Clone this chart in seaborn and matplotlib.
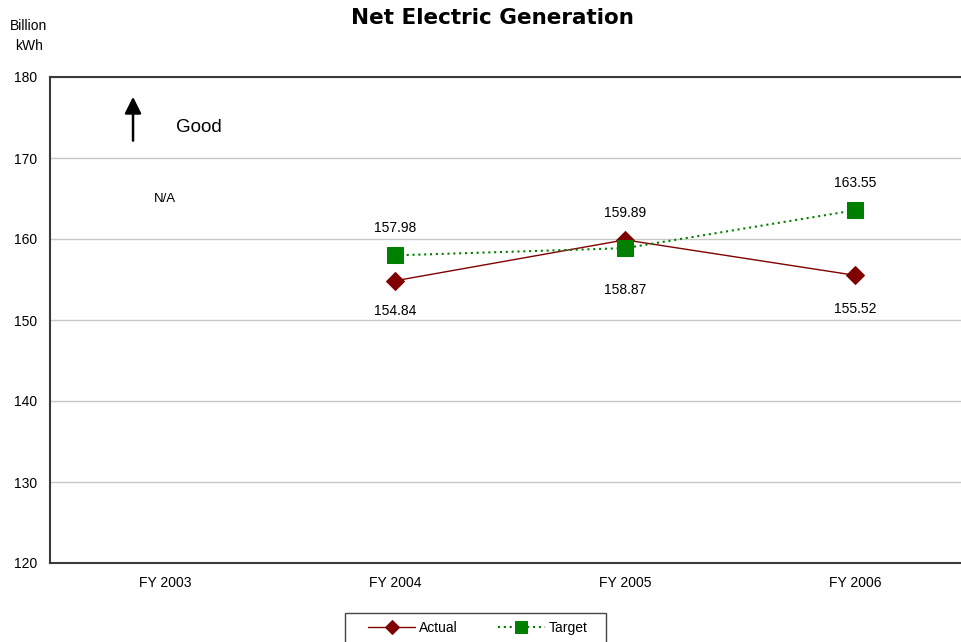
import numpy as np
import pandas as pd
import matplotlib
matplotlib.use("Agg")
import matplotlib.pyplot as plt
from matplotlib.patches import Rectangle
import seaborn as sns

sns.set_style("white")
plt.rcParams["font.family"] = ["Liberation Sans", "DejaVu Sans"]
plt.rcParams["text.color"] = "black"
plt.rcParams["xtick.color"] = "black"
plt.rcParams["ytick.color"] = "black"

years = ["FY 2003", "FY 2004", "FY 2005", "FY 2006"]
actual = [np.nan, 154.84, 159.89, 155.52]
target = [np.nan, 157.98, 158.87, 163.55]
y_ticks = [120, 130, 140, 150, 160, 170, 180]

pos = np.arange(len(years))
df = pd.DataFrame({"pos": pos, "Actual": actual, "Target": target})

fig = plt.figure(figsize=(9.62, 6.42), dpi=100)
ax = fig.add_axes([50 / 962, 79 / 642, 920 / 962, 486 / 642])

sns.lineplot(data=df, x="pos", y="Actual", ax=ax, color="#800000", linewidth=1.0,
             marker="D", markersize=9, markeredgecolor="#800000", label="Actual")
sns.lineplot(data=df, x="pos", y="Target", ax=ax, color="#008000", linewidth=1.5,
             linestyle=(0, (1.0, 1.8)), marker="s", markersize=11,
             markeredgecolor="#008000", label="Target")

ax.set_xlim(-0.5, len(years) - 0.5)
ax.set_ylim(120, 180)
ax.set_yticks(y_ticks)
ax.set_yticklabels([str(t) for t in y_ticks], fontsize=10)
ax.set_xticks(pos)
ax.set_xticklabels(years, fontsize=10)
ax.set_xticks(pos[:-1] + 0.5, minor=True)
ax.tick_params(axis="x", which="major", length=0, pad=9.5)
ax.tick_params(axis="x", which="minor", length=5, width=1, color="#333333", direction="out")
ax.tick_params(axis="y", which="major", length=4, width=1, color="#333333", direction="out", pad=5)
ax.set_xlabel("")
ax.set_ylabel("")
ax.grid(axis="y", color="#c8c8c8", linewidth=1)
ax.set_axisbelow(True)
for side in ["left", "bottom", "top"]:
    ax.spines[side].set_color("#3a3a3a")
    ax.spines[side].set_linewidth(1.5)
ax.spines["right"].set_visible(False)

# value labels: the higher point gets its label above, the lower one below
label_offsets = [(0, 0), (-20, 22), (-19.5, 30), (-19.5, 24.5)]  # (above, below) in points
for i in range(len(years)):
    a, t = actual[i], target[i]
    if np.isnan(a):
        continue
    hi, lo = (a, t) if a > t else (t, a)
    up, down = label_offsets[i]
    ax.annotate(f"{hi:.2f}", (pos[i], hi), xytext=(0, -up), textcoords="offset points",
                ha="center", va="center", fontsize=10)
    ax.annotate(f"{lo:.2f}", (pos[i], lo), xytext=(0, -down), textcoords="offset points",
                ha="center", va="center", fontsize=10)

ax.text(pos[0], 164.9, "N/A", ha="center", va="center", fontsize=9.5)

ax.annotate("", xy=(-0.139, 177.9), xytext=(-0.139, 171.8),
            arrowprops=dict(arrowstyle="-|>,head_width=0.5,head_length=1.0",
                            color="black", lw=1.8))
ax.text(0.148, 173.8, "Good", ha="center", va="center", fontsize=13.5)

fig.text(492 / 962, 1 - 18 / 642, "Net Electric Generation", ha="center", va="center",
         fontsize=15.5, fontweight="bold", family="DejaVu Sans")
fig.text(29 / 962, 1 - 36 / 642, "Billion\nkWh", ha="center", va="center",
         fontsize=10, linespacing=1.55)

# legend entries without a frame, boxed by a separate rectangle running off the bottom
ax.get_legend().remove()
handles, labels = ax.get_legend_handles_labels()
leg = fig.legend(handles, labels, loc="upper left",
                 bbox_to_anchor=(368 / 962, 1 - 621 / 642), borderaxespad=0, borderpad=0,
                 ncol=2, frameon=False, fontsize=10, handlelength=3.4,
                 handletextpad=0.25, columnspacing=2.9, markerscale=0.75)
fig.patches.append(Rectangle((345 / 962, -0.05), 261 / 962, 0.05 + (642 - 613) / 642,
                             transform=fig.transFigure, fill=False,
                             edgecolor="#444444", linewidth=1.0))

fig.savefig("out.png", dpi=100)
